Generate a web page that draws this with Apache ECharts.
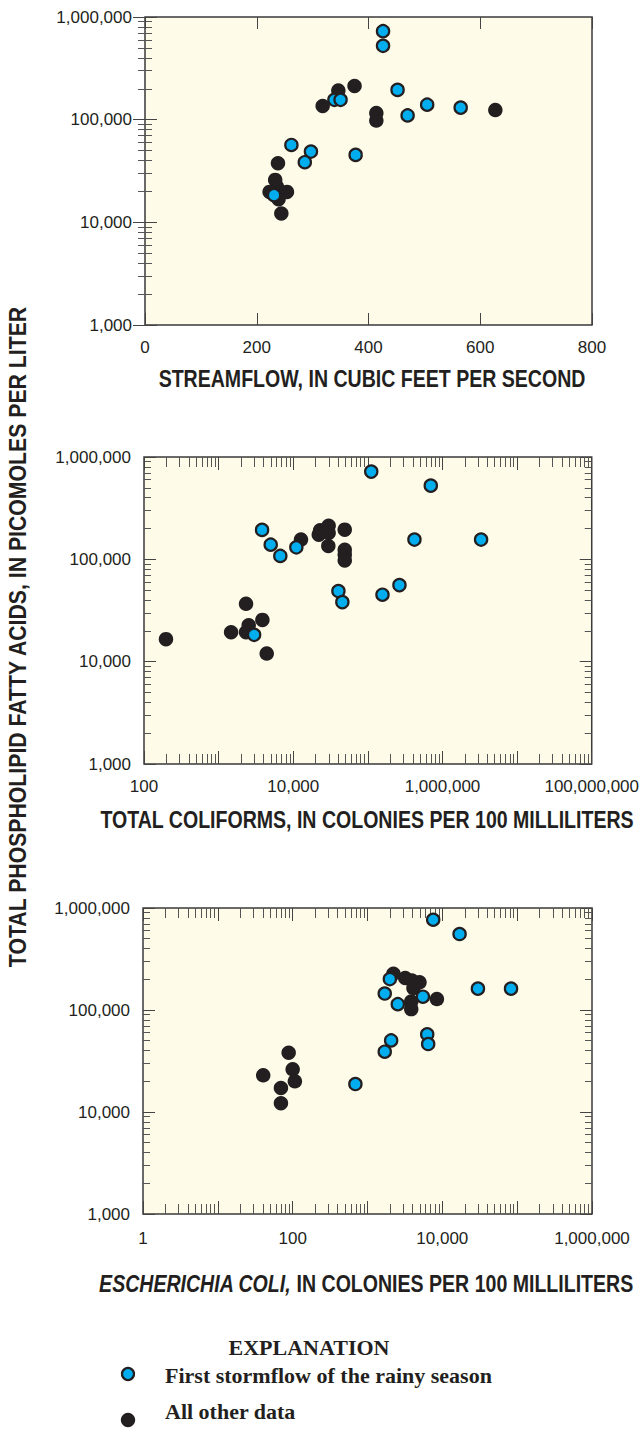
<!DOCTYPE html>
<html>
<head>
<meta charset="utf-8">
<script src="https://cdn.jsdelivr.net/npm/echarts@6/dist/echarts.min.js"></script>
<style>
html,body{margin:0;padding:0;background:#fff;}
#chart{width:642px;height:1433px;}
</style>
</head>
<body>
<div id="chart"></div>
<script>
// ---- Data ----
// Panel 1: streamflow (ft3/s) vs PLFA (pmol/L)
const flowFirst = [426, 426, 452, 339, 350, 470, 505, 565, 262, 297, 286, 377, 231];
const plfaFlowFirst = [728000, 524000, 195000, 156000, 156000, 110000, 140000, 131000, 56700, 48900, 38500, 45400, 18400];
const flowOther = [375, 346, 318, 414, 414, 627, 238, 233, 236, 223, 254, 239, 244];
const plfaFlowOther = [213000, 192000, 136000, 116000, 98000, 124000, 37700, 25900, 22300, 19800, 19800, 16800, 12200];

// Panel 2: total coliforms (col/100 mL) vs PLFA
const coliFirst = [111000, 697000, 3820, 4990, 6710, 11000, 421000, 3290000, 40300, 45500, 157000, 265000, 2990];
const plfaColiFirst = [720000, 525000, 194000, 139000, 108000, 131000, 156000, 156000, 49000, 38200, 45100, 56000, 18300];
const coliOther = [197, 1470, 2330, 2330, 2530, 3860, 4410, 12700, 22900, 22000, 29800, 29800, 29500, 49000, 49000, 49000, 49000];
const plfaColiOther = [16600, 19400, 36800, 19400, 22700, 25600, 12000, 156000, 192000, 174000, 213000, 181000, 135000, 195000, 124000, 111000, 97500];

// Panel 3: E. coli (col/100 mL) vs PLFA
const ecoliFirst = [7550, 17000, 1990, 1700, 2540, 5500, 29900, 82800, 6280, 6470, 2070, 1700, 689];
const plfaEcoliFirst = [767000, 556000, 201000, 145000, 114000, 135000, 162000, 162000, 57700, 46400, 50300, 39000, 18800];
const ecoliOther = [2220, 3190, 3920, 4950, 4110, 3840, 3840, 8460, 88.4, 100, 107, 40.4, 69.7, 69.7];
const plfaEcoliOther = [227000, 206000, 195000, 187000, 164000, 121000, 102000, 128000, 38100, 26200, 20000, 22900, 17200, 12200];

// Axis ranges / tick labels
const yRange = [1000, 1000000];
const flowRange = [0, 800];
const flowInterval = 200;
const coliRange = [100, 100000000];
const ecoliRange = [1, 1000000];

const xTitles = [
  'STREAMFLOW, IN CUBIC FEET PER SECOND',
  'TOTAL COLIFORMS, IN COLONIES PER 100 MILLILITERS',
  '{it|ESCHERICHIA COLI,} IN COLONIES PER 100 MILLILITERS'
];
const yTitle = 'TOTAL PHOSPHOLIPID FATTY ACIDS, IN PICOMOLES PER LITER';
const legendTitle = 'EXPLANATION';
const legendNames = ['First stormflow of the rainy season', 'All other data'];

// ---- Styling ----
const SANS = "'Liberation Sans', Arial, sans-serif";
const SERIF = "'Liberation Serif', 'Times New Roman', serif";
const INK = '#231f20';
const BLUE = '#00aeef';
const BG = '#fffbe9';
const COND = 0.815; // horizontal squeeze to imitate a condensed face

const grids = [
  {left: 145, top: 17, width: 447, height: 308},
  {left: 144, top: 457, width: 448, height: 307},
  {left: 143, top: 908, width: 449, height: 306}
];

function fmtNum(v) { return Math.round(v).toLocaleString('en-US'); }
function fmtLogEven(v) {
  const e = Math.round(Math.log10(v));
  return e % 2 === 0 ? fmtNum(v) : '';
}

const tickStyle = {color: '#444', width: 1};
const minorStyle = {color: '#555', width: 1};

function makeX(gi, type, range, pos, labelMargin) {
  const isLog = type === 'log';
  const ax = {
    gridIndex: gi, type: type, position: pos,
    min: range[0], max: range[1],
    axisLine: {show: false},
    splitLine: {show: false},
    axisTick: {show: true, inside: true, length: isLog ? 13 : 12, lineStyle: tickStyle},
    axisLabel: {
      show: pos === 'bottom', margin: labelMargin || 14, color: INK,
      fontFamily: SANS, fontSize: 17,
      formatter: isLog ? fmtLogEven : fmtNum
    }
  };
  if (isLog) {
    ax.logBase = 10;
    ax.minorTick = {show: true, splitNumber: 9, length: 10, lineStyle: minorStyle};
  } else {
    ax.interval = flowInterval;
  }
  return ax;
}

function makeY(gi, pos) {
  return {
    gridIndex: gi, type: 'log', logBase: 10, position: pos,
    min: yRange[0], max: yRange[1],
    axisLine: {show: false},
    splitLine: {show: false},
    axisTick: {show: true, inside: true, length: 12, lineStyle: tickStyle},
    minorTick: {show: true, splitNumber: 9, length: 7, lineStyle: minorStyle},
    axisLabel: {
      show: pos === 'left', margin: 13, color: INK,
      fontFamily: SANS, fontSize: 17, formatter: fmtNum
    }
  };
}

const xAxes = [
  makeX(0, 'value', flowRange, 'bottom', 14),
  makeX(0, 'value', flowRange, 'top'),
  makeX(1, 'log', coliRange, 'bottom', 14),
  makeX(1, 'log', coliRange, 'top'),
  makeX(2, 'log', ecoliRange, 'bottom', 16),
  makeX(2, 'log', ecoliRange, 'top')
];
const yAxes = [
  makeY(0, 'left'), makeY(0, 'right'),
  makeY(1, 'left'), makeY(1, 'right'),
  makeY(2, 'left'), makeY(2, 'right')
];

function zip(a, b) { return a.map((v, i) => [v, b[i]]); }

const otherStyle = {color: INK, borderColor: INK, borderWidth: 0, opacity: 1};
const firstStyle = {color: BLUE, borderColor: INK, borderWidth: 2.2, opacity: 1};

const panels = [
  [flowOther, plfaFlowOther, flowFirst, plfaFlowFirst],
  [coliOther, plfaColiOther, coliFirst, plfaColiFirst],
  [ecoliOther, plfaEcoliOther, ecoliFirst, plfaEcoliFirst]
];
const series = [];
panels.forEach((p, i) => {
  series.push({
    name: legendNames[1], type: 'scatter', xAxisIndex: 2 * i, yAxisIndex: 2 * i,
    data: zip(p[0], p[1]), symbol: 'circle', symbolSize: 14.5,
    itemStyle: otherStyle, emphasis: {disabled: true}, z: 3
  });
  series.push({
    name: legendNames[0], type: 'scatter', xAxisIndex: 2 * i, yAxisIndex: 2 * i,
    data: zip(p[2], p[3]), symbol: 'circle', symbolSize: 12.3,
    itemStyle: firstStyle, emphasis: {disabled: true}, z: 4
  });
});

const titleFont = "bold 24px " + SANS;
const titleCenters = [[372, 379], [367, 820], [366, 1284]];

const option = {
  animation: false,
  backgroundColor: '#ffffff',
  grid: grids.map(g => Object.assign({
    show: true, backgroundColor: BG, borderColor: '#3a3a3a', borderWidth: 1.5, containLabel: false
  }, g)),
  xAxis: xAxes,
  yAxis: yAxes,
  series: series,
  graphic: [
    {type: 'text', x: 18, y: 637, rotation: Math.PI / 2, scaleX: 0.885,
     style: {text: yTitle, fill: INK, font: titleFont, align: 'center', verticalAlign: 'middle'}},
    {type: 'text', x: titleCenters[0][0], y: titleCenters[0][1], scaleX: COND,
     style: {text: xTitles[0], fill: INK, font: titleFont, align: 'center', verticalAlign: 'middle'}},
    {type: 'text', x: titleCenters[1][0], y: titleCenters[1][1], scaleX: COND,
     style: {text: xTitles[1], fill: INK, font: titleFont, align: 'center', verticalAlign: 'middle'}},
    {type: 'text', x: titleCenters[2][0], y: titleCenters[2][1], scaleX: COND,
     style: {text: xTitles[2], fill: INK, fontFamily: SANS, fontWeight: 'bold', fontSize: 24,
             align: 'center', verticalAlign: 'middle',
             rich: {it: {fontStyle: 'italic', fontWeight: 'bold', fontSize: 24, fontFamily: SANS, fill: INK}}}},
    {type: 'text', x: 309, y: 1347,
     style: {text: legendTitle, fill: INK, font: "bold 22px " + SERIF, align: 'center', verticalAlign: 'middle'}},
    {type: 'circle', shape: {cx: 128, cy: 1374, r: 6}, style: {fill: BLUE, stroke: INK, lineWidth: 2.2}},
    {type: 'text', x: 165, y: 1375,
     style: {text: legendNames[0], fill: INK, font: "bold 22px " + SERIF, align: 'left', verticalAlign: 'middle'}},
    {type: 'circle', shape: {cx: 128, cy: 1420, r: 7.2}, style: {fill: INK}},
    {type: 'text', x: 165, y: 1411,
     style: {text: legendNames[1], fill: INK, font: "bold 22px " + SERIF, align: 'left', verticalAlign: 'middle'}}
  ]
};

const chart = echarts.init(document.getElementById('chart'), null, {renderer: 'svg', width: 642, height: 1433});
chart.setOption(option);
</script>
</body>
</html>
